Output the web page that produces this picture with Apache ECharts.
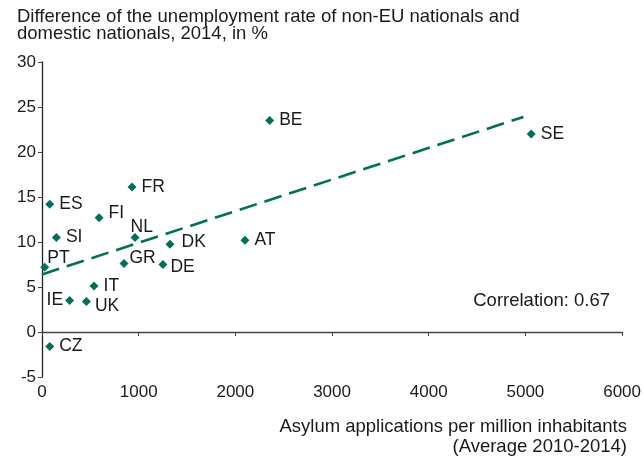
<!DOCTYPE html>
<html>
<head>
<meta charset="utf-8">
<script src="https://cdn.jsdelivr.net/npm/echarts@6/dist/echarts.min.js"></script>
<style>
html,body{margin:0;padding:0;background:#fff;}
#chart{width:644px;height:461px;}
</style>
</head>
<body>
<div id="chart"></div>
<script>
// Data
const countries = ['BE','SE','FR','ES','FI','NL','SI','DK','AT','PT','GR','DE','IT','IE','UK','CZ'];
const asylumApplications = [2355, 5060, 931, 80, 590, 962, 149, 1324, 2099, 28, 848, 1251, 538, 286, 459, 80];
const unemploymentDiff = [23.5, 22.0, 16.1, 14.2, 12.7, 10.5, 10.5, 9.75, 10.2, 7.2, 7.6, 7.5, 5.1, 3.5, 3.4, -1.6];
const trendX = [0, 4980];
const trendY = [6.4, 23.9];
const xTicks = [0, 1000, 2000, 3000, 4000, 5000, 6000];
const yTicks = [-5, 0, 5, 10, 15, 20, 25, 30];
const titleLines = ['Difference of the unemployment rate of non-EU nationals and', 'domestic nationals, 2014, in %'];
const xNameLines = ['Asylum applications per million inhabitants', '(Average 2010-2014)'];
const correlationText = 'Correlation: 0.67';

// Label placement (style only)
const labelPlacement = {
  FI: {offset: [0, -5]},
  NL: {offset: [-14, -10]},
  PT: {offset: [-7, -9]},
  DK: {offset: [2, -2]},
  GR: {offset: [-4, -5]},
  DE: {offset: [-2, 3]},
  IE: {position: 'left', offset: [3, 0]},
  UK: {offset: [-1, 5]}
};

const green = '#00705a';
const textColor = '#1a1a1a';
const font = 'Liberation Sans, Arial, sans-serif';

const scatterData = countries.map((c, i) => {
  const p = labelPlacement[c] || {};
  return {
    name: c,
    value: [asylumApplications[i], unemploymentDiff[i]],
    label: {position: p.position || 'right', offset: p.offset || [0, 0]}
  };
});

const bigFont = '18.5px Liberation Sans, Arial, sans-serif';

const chart = echarts.init(document.getElementById('chart'));
chart.setOption({
  animation: false,
  backgroundColor: '#fff',
  grid: {left: 42, right: 21, top: 62, bottom: 84, containLabel: false},
  graphic: [
    {type: 'text', left: 17, top: 7, style: {text: titleLines[0], font: bigFont, fill: textColor}},
    {type: 'text', left: 17, top: 24, style: {text: titleLines[1], font: bigFont, fill: textColor}},
    {type: 'text', right: 17, top: 417, style: {text: xNameLines[0], font: bigFont, fill: textColor}},
    {type: 'text', right: 17, top: 437, style: {text: xNameLines[1], font: bigFont, fill: textColor}},
    {type: 'text', right: 34, top: 291, style: {text: correlationText, font: bigFont, fill: textColor}}
  ],
  xAxis: [
    {
      type: 'value', min: xTicks[0], max: xTicks[xTicks.length - 1], interval: 1000,
      axisLine: {show: false, onZero: false},
      axisTick: {show: false},
      splitLine: {show: false},
      axisLabel: {fontFamily: font, fontSize: 17, color: textColor, margin: 7, formatter: v => String(v)}
    },
    {
      type: 'value', min: xTicks[0], max: xTicks[xTicks.length - 1], interval: 1000,
      position: 'bottom',
      axisLine: {show: true, onZero: true, lineStyle: {color: '#444', width: 1.3}},
      axisTick: {show: true, inside: false, length: 4, lineStyle: {color: '#444'}},
      splitLine: {show: false},
      axisLabel: {show: false}
    }
  ],
  yAxis: {
    type: 'value', min: yTicks[0], max: yTicks[yTicks.length - 1], interval: 5,
    axisLine: {show: true, lineStyle: {color: '#222', width: 1.3}},
    axisTick: {show: true, length: 4, lineStyle: {color: '#444'}},
    splitLine: {show: false},
    axisLabel: {fontFamily: font, fontSize: 17, color: textColor, margin: 6}
  },
  series: [
    {
      type: 'line',
      xAxisIndex: 0,
      data: trendX.map((x, i) => [x, trendY[i]]),
      showSymbol: false,
      symbol: 'none',
      lineStyle: {color: green, width: 2.6, type: [18, 8]},
      silent: true,
      z: 1
    },
    {
      type: 'scatter',
      xAxisIndex: 0,
      data: scatterData,
      symbol: 'diamond',
      symbolSize: 9,
      itemStyle: {color: green, opacity: 1},
      label: {
        show: true,
        formatter: '{b}',
        distance: 5,
        fontFamily: font,
        fontSize: 17.5,
        color: textColor
      },
      z: 3
    }
  ]
});
</script>
</body>
</html>
